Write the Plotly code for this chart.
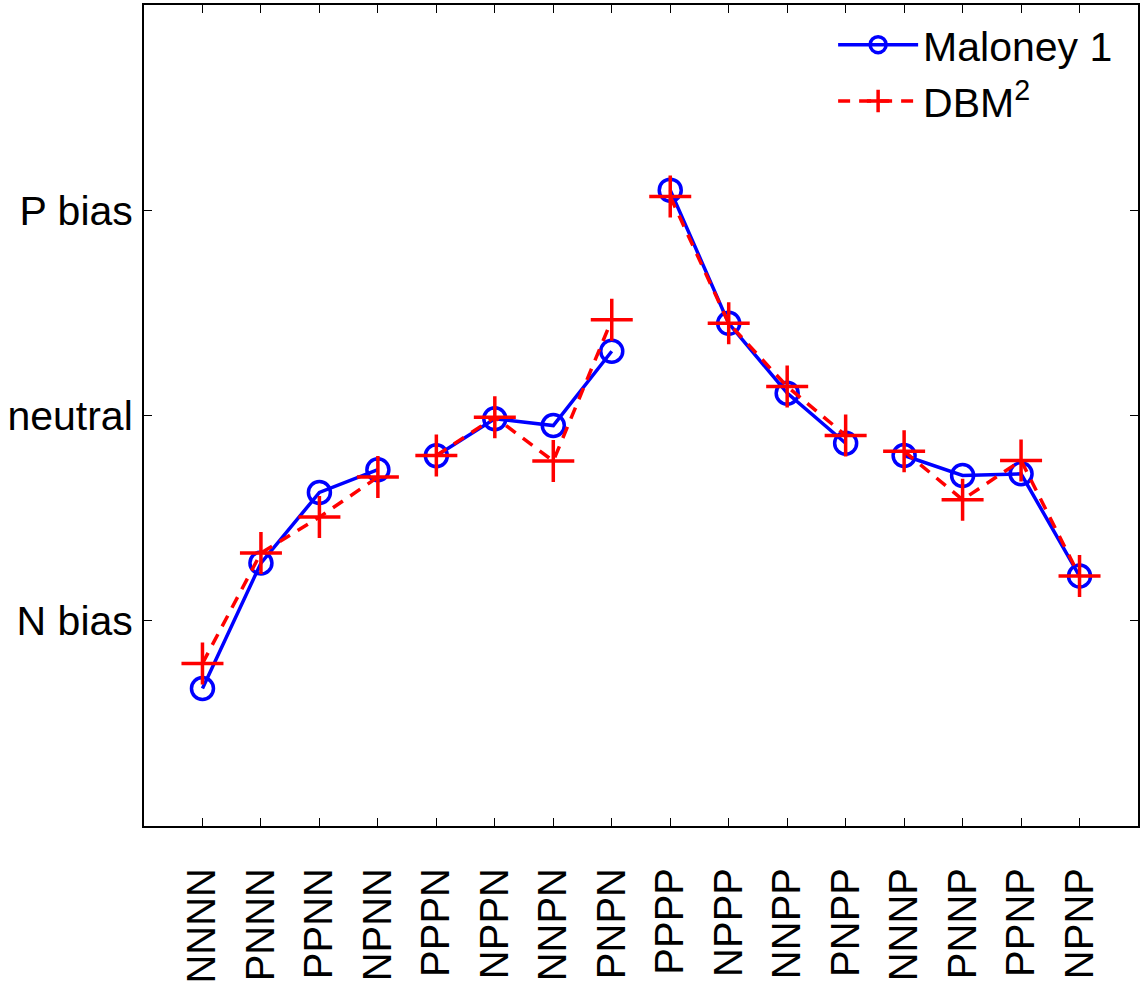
import plotly.graph_objects as go

# Sequence categories along the x axis
sequences = ["NNNN", "PNNN", "PPNN", "NPNN",
             "PPPN", "NPPN", "NNPN", "PNPN",
             "PPPP", "NPPP", "NNPP", "PNPP",
             "NNNP", "PNNP", "PPNP", "NPNP"]

# Bias values (neutral = 0, P bias = +1, N bias = -1)
maloney = [-1.330, -0.719, -0.375, -0.264,
           -0.196, -0.016, -0.049, 0.313,
           1.098, 0.449, 0.109, -0.135,
           -0.195, -0.292, -0.284, -0.782]
dbm2 = [-1.208, -0.670, -0.495, -0.300,
        -0.195, -0.008, -0.222, 0.466,
        1.067, 0.449, 0.141, -0.097,
        -0.174, -0.410, -0.219, -0.782]

y_tick_vals = [-1, 0, 1]
y_tick_text = ["N bias", "neutral", "P bias"]
group_size = 4


def with_breaks(values):
    """Split the series into groups of four, separated by gaps."""
    xs, ys = [], []
    for i, v in enumerate(values):
        if i > 0 and i % group_size == 0:
            xs.append(None)
            ys.append(None)
        xs.append(i + 1)
        ys.append(v)
    return xs, ys


FONT = "Liberation Sans, Arial, Helvetica, sans-serif"

fig = go.Figure()

mx, my = with_breaks(maloney)
fig.add_trace(go.Scatter(
    x=mx, y=my, name="Maloney 1", mode="lines+markers",
    connectgaps=False,
    line=dict(color="#0000FF", width=3.5),
    marker=dict(symbol="circle-open", size=22, color="#0000FF",
                line=dict(width=3.5, color="#0000FF")),
))

dx, dy = with_breaks(dbm2)
fig.add_trace(go.Scatter(
    x=dx, y=dy, name="DBM<sup>2</sup>", mode="lines+markers",
    connectgaps=False,
    line=dict(color="#FF0000", width=3.5, dash="12px,9px"),
    marker=dict(symbol="cross-thin", size=30, color="#FF0000",
                line=dict(width=3.5, color="#FF0000")),
))

axis_common = dict(
    showline=True, linecolor="black", linewidth=2, mirror="ticks",
    ticks="inside", ticklen=8, tickwidth=1.2, tickcolor="black",
    showgrid=False, zeroline=False,
)

fig.update_layout(
    width=1141, height=990,
    margin=dict(l=144, r=1, t=5, b=164),
    paper_bgcolor="white", plot_bgcolor="white",
    font=dict(family=FONT, color="black", size=40),
    xaxis=dict(
        range=[0, 17],
        tickmode="array",
        tickvals=list(range(1, len(sequences) + 1)),
        ticktext=sequences,
        tickangle=-90,
        tickfont=dict(size=40),
        ticklabelstandoff=24,
        **axis_common,
    ),
    yaxis=dict(
        range=[-2, 2],
        tickmode="array",
        tickvals=y_tick_vals,
        ticktext=y_tick_text,
        tickfont=dict(size=41),
        ticklabelstandoff=1,
        **axis_common,
    ),
    legend=dict(
        x=0.98, y=0.992, xanchor="right", yanchor="top",
        font=dict(size=41),
        bgcolor="rgba(0,0,0,0)",
        itemwidth=80,
    ),
    showlegend=True,
)

fig.write_html("out.html")
